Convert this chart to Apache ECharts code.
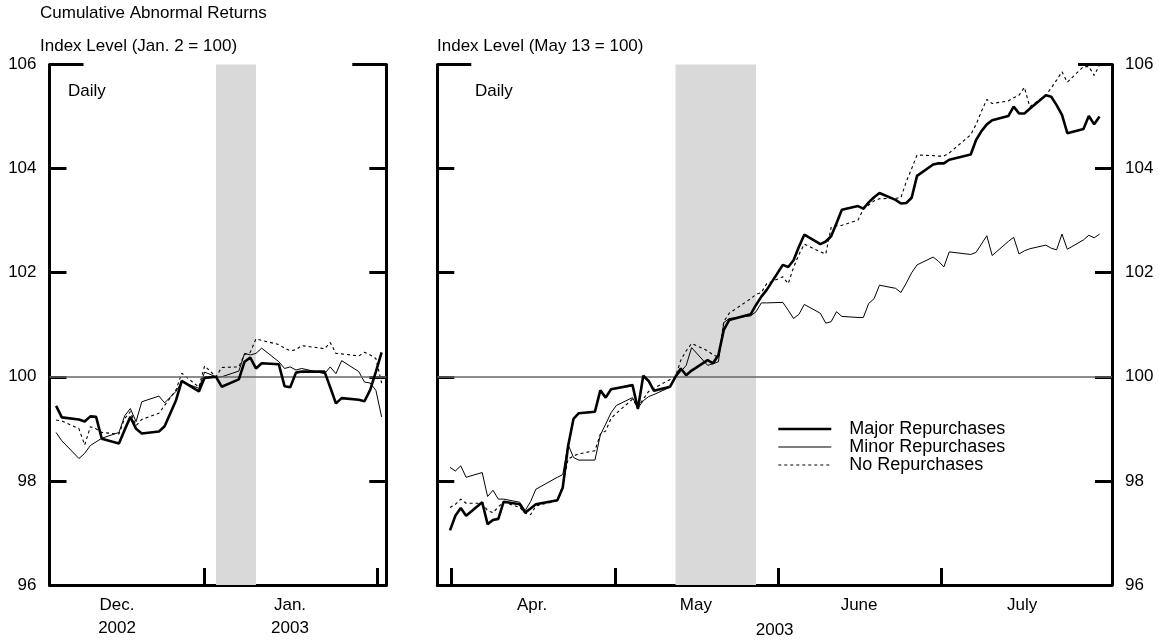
<!DOCTYPE html>
<html><head><meta charset="utf-8">
<script src="https://cdn.jsdelivr.net/npm/echarts@6/dist/echarts.min.js"></script>
<style>html,body{margin:0;padding:0;background:#fff}#c{width:1159px;height:640px}</style>
</head><body><div id="c"></div>
<script>
// ---------------- data ----------------
const chartTitle = 'Cumulative Abnormal Returns';
const leftSubtitle = 'Index Level (Jan. 2 = 100)';
const rightSubtitle = 'Index Level (May 13 = 100)';
const panelNote = 'Daily';
const seriesNames = ['Major Repurchases', 'Minor Repurchases', 'No Repurchases'];
const yTicks = [96, 98, 100, 102, 104, 106];

const leftDates = ['2002-12-05','2002-12-06','2002-12-09','2002-12-10','2002-12-11','2002-12-12','2002-12-13','2002-12-16','2002-12-17','2002-12-18','2002-12-19','2002-12-20','2002-12-23','2002-12-24','2002-12-26','2002-12-27','2002-12-30','2002-12-31','2003-01-02','2003-01-03','2003-01-06','2003-01-07','2003-01-08','2003-01-09','2003-01-10','2003-01-13','2003-01-14','2003-01-15','2003-01-16','2003-01-17','2003-01-21','2003-01-22','2003-01-23','2003-01-24','2003-01-27','2003-01-28','2003-01-29','2003-01-30','2003-01-31'];
const leftMajor = [99.44,99.22,99.18,99.14,99.24,99.23,98.81,98.72,98.98,99.23,99.00,98.91,98.95,99.05,99.55,99.92,99.72,99.98,100.00,99.81,99.95,100.29,100.37,100.16,100.26,100.24,99.82,99.80,100.08,100.10,100.10,99.80,99.49,99.59,99.56,99.53,99.75,100.10,100.47];
const leftMinor = [98.93,98.77,98.43,98.53,98.68,98.75,98.82,98.93,99.25,99.39,99.14,99.52,99.63,99.50,99.72,99.90,99.78,100.09,100.00,100.00,100.11,100.45,100.42,100.45,100.55,100.29,100.16,100.19,100.13,100.16,100.06,100.19,100.06,100.31,100.10,99.90,99.88,99.74,99.23];
const leftNone  = [99.17,99.15,99.00,98.69,99.04,99.00,98.93,98.90,99.20,99.33,99.06,99.18,99.30,99.45,99.75,100.07,99.80,100.21,100.00,100.18,100.19,100.43,100.47,100.73,100.70,100.62,100.55,100.50,100.52,100.60,100.54,100.66,100.45,100.44,100.40,100.47,100.42,100.35,99.88];

const rightDates = ['2003-04-01','2003-04-02','2003-04-03','2003-04-04','2003-04-07','2003-04-08','2003-04-09','2003-04-10','2003-04-11','2003-04-14','2003-04-15','2003-04-16','2003-04-17','2003-04-21','2003-04-22','2003-04-23','2003-04-24','2003-04-25','2003-04-28','2003-04-29','2003-04-30',
'2003-05-01','2003-05-02','2003-05-05','2003-05-06','2003-05-07','2003-05-08','2003-05-09','2003-05-12','2003-05-13','2003-05-14','2003-05-15','2003-05-16','2003-05-19','2003-05-20','2003-05-21','2003-05-22','2003-05-23','2003-05-27','2003-05-28','2003-05-29','2003-05-30',
'2003-06-02','2003-06-03','2003-06-04','2003-06-05','2003-06-06','2003-06-09','2003-06-10','2003-06-11','2003-06-12','2003-06-13','2003-06-16','2003-06-17','2003-06-18','2003-06-19','2003-06-20','2003-06-23','2003-06-24','2003-06-25','2003-06-26','2003-06-27','2003-06-30',
'2003-07-01','2003-07-02','2003-07-03','2003-07-07','2003-07-08','2003-07-09','2003-07-10','2003-07-11','2003-07-14','2003-07-15','2003-07-16','2003-07-17','2003-07-18','2003-07-21','2003-07-22','2003-07-23','2003-07-24','2003-07-25','2003-07-28','2003-07-29','2003-07-30','2003-07-31'];
const rightMajor = [97.05,97.33,97.48,97.33,97.59,97.17,97.25,97.27,97.60,97.55,97.39,97.47,97.55,97.63,97.87,98.67,99.19,99.30,99.33,99.74,99.60,
99.76,99.78,99.84,99.38,100.02,99.92,99.73,99.81,100.00,100.16,100.03,100.12,100.32,100.26,100.42,100.90,101.09,101.20,101.38,101.54,101.67,
102.15,102.11,102.24,102.50,102.73,102.55,102.60,102.70,102.95,103.21,103.28,103.23,103.35,103.45,103.53,103.40,103.33,103.34,103.44,103.86,104.08,
104.10,104.10,104.17,104.27,104.55,104.72,104.85,104.93,105.01,105.19,105.06,105.06,105.15,105.41,105.38,105.22,105.03,104.68,104.76,105.01,104.85,105.00];
const rightMinor = [98.26,98.19,98.29,98.07,98.16,97.70,97.82,97.65,97.65,97.59,97.43,97.60,97.84,98.07,98.12,98.70,98.45,98.40,98.40,98.88,99.09,
99.31,99.45,99.60,99.40,99.54,99.62,99.66,99.80,100.00,100.10,100.22,100.56,100.22,100.25,100.29,101.04,101.12,101.17,101.25,101.42,101.42,
101.43,101.28,101.12,101.20,101.39,101.22,101.03,101.06,101.25,101.16,101.14,101.14,101.41,101.50,101.76,101.70,101.62,101.80,102.00,102.15,102.30,
102.22,102.11,102.40,102.35,102.39,102.55,102.71,102.33,102.60,102.68,102.36,102.42,102.46,102.53,102.47,102.44,102.74,102.45,102.63,102.72,102.67,102.74];
const rightNone = [97.49,97.55,97.65,97.57,97.57,97.43,97.39,97.50,97.59,97.49,97.38,97.35,97.52,97.62,97.91,98.42,98.48,98.52,98.58,98.90,98.96,
99.20,99.30,99.57,99.41,99.57,99.72,99.78,99.95,100.00,100.32,100.50,100.64,100.50,100.42,100.38,101.06,101.22,101.50,101.58,101.62,101.79,
101.92,101.79,102.10,102.35,102.55,102.40,102.36,102.87,102.90,102.91,103.01,103.22,103.30,103.38,103.42,103.43,103.44,103.75,104.00,104.26,104.25,
104.24,104.24,104.30,104.65,104.85,105.10,105.33,105.25,105.30,105.36,105.41,105.56,105.19,105.41,105.55,105.70,105.86,105.66,105.96,105.96,105.79,105.99];

const leftMonthLabels = ['Dec.\n2002', 'Jan.\n2003'];
const rightMonthLabels = ['Apr.', 'May', 'June', 'July'];
const rightYearLabel = '2003';
const baseline = 100;
const leftShade = ['2003-01-02', '2003-01-09'];
const rightShade = ['2003-05-13', '2003-05-28'];

// axis placements (dates)
const leftRange = ['2002-12-03 20:10', '2003-01-31 19:40'];
const leftTickDates = ['2002-12-30 22:00', '2003-01-30 05:00'];
const leftLabelDates = ['2002-12-15 16:00', '2003-01-14 23:00'];
const rightRange = ['2003-03-29 15:12', '2003-08-02 07:40'];
const rightTickDates = ['2003-04-01 04:30', '2003-05-01 18:00', '2003-06-01 02:30', '2003-07-01 12:00'];
const rightLabelDates = ['2003-04-16 07:00', '2003-05-16 19:00', '2003-06-16 05:00', '2003-07-16 13:30'];

// ---------------- chart ----------------
const FONT = 'Liberation Sans, Arial, Helvetica, sans-serif';
// date string -> day number (UTC-based, so no timezone effects)
const t = s => {
  const m = s.match(/(\d+)-(\d+)-(\d+)(?:\s+(\d+):(\d+))?/);
  return Date.UTC(+m[1], +m[2] - 1, +m[3], m[4] ? +m[4] : 0, m[5] ? +m[5] : 0) / 86400000;
};
const styles = [
  { color: '#000', width: 2.6, type: 'solid' },
  { color: '#000', width: 1, type: 'solid' },
  { color: '#000', width: 1.1, type: [3, 3] }
];

const grids = [
  { left: 49.5, top: 64.5, width: 336.8, height: 520.5, containLabel: false, outerBoundsMode: 'none' },
  { left: 437.3, top: 64.5, width: 674.7, height: 520.5, containLabel: false, outerBoundsMode: 'none' }
];

function xAxis(gi, range, ticks, labelDates, labels, extra) {
  const lv = labelDates.map(t);
  return Object.assign({
    type: 'value', gridIndex: gi, min: t(range[0]), max: t(range[1]), scale: true,
    axisLine: { onZero: false, lineStyle: { color: '#000', width: 3 } },
    axisTick: { show: true, inside: true, length: 17, lineStyle: { color: '#000', width: 3 }, customValues: ticks.map(t) },
    axisLabel: {
      customValues: lv, color: '#000', fontSize: 17, lineHeight: 23, margin: 9,
      fontFamily: FONT, formatter: (v) => { const i = lv.findIndex(x => Math.abs(x - v) < 1e-6); return i >= 0 ? labels[i] : ''; }
    },
    splitLine: { show: false }, minorTick: { show: false }
  }, extra || {});
}
function yAxis(gi, pos, showLabels) {
  return {
    type: 'value', gridIndex: gi, position: pos, min: yTicks[0], max: yTicks[yTicks.length - 1], interval: 2,
    axisLine: { show: true, onZero: false, lineStyle: { color: '#000', width: 3 } },
    axisTick: { show: true, inside: true, length: 17, lineStyle: { color: '#000', width: 3 } },
    axisLabel: { show: showLabels, color: '#000', fontSize: 17, margin: 13, fontFamily: FONT },
    splitLine: { show: false }
  };
}
function topTickAxis(gi, pos) {
  return {
    type: 'value', gridIndex: gi, position: pos, min: yTicks[0], max: yTicks[yTicks.length - 1],
    axisLine: { show: false, onZero: false },
    axisTick: { show: true, inside: true, length: 34, lineStyle: { color: '#000', width: 3 }, customValues: [yTicks[yTicks.length - 1]] },
    axisLabel: { show: false }, splitLine: { show: false }
  };
}

function helper(xi, yi, shade) {
  return {
    type: 'line', data: [], xAxisIndex: xi, yAxisIndex: yi, z: 0, silent: true,
    markArea: { silent: true, itemStyle: { color: '#d9d9d9' }, data: [[{ xAxis: t(shade[0]) }, { xAxis: t(shade[1]) }]] },
    markLine: {
      silent: true, symbol: ['none', 'none'], label: { show: false },
      lineStyle: { color: '#666666', width: 1.5, type: 'solid' }, emphasis: { disabled: true },
      data: [{ yAxis: baseline }]
    }
  };
}
function line(name, dates, vals, xi, yi, k) {
  return {
    type: 'line', name: name, xAxisIndex: xi, yAxisIndex: yi, z: 5 - k,
    data: dates.map((d, i) => [t(d), vals[i]]),
    symbol: 'none', showSymbol: false, lineStyle: styles[k], itemStyle: { color: '#000' },
    emphasis: { disabled: true }, animation: false
  };
}

const titleStyle = { fontSize: 17, fontWeight: 'normal', color: '#000', fontFamily: FONT };
const option = {
  animation: false,
  backgroundColor: '#fff',
  textStyle: { fontFamily: FONT },
  title: [
    { text: chartTitle, left: 40, top: 5, padding: 0, textStyle: titleStyle },
    { text: leftSubtitle, left: 40, top: 38, padding: 0, textStyle: titleStyle },
    { text: rightSubtitle, left: 437, top: 38, padding: 0, textStyle: titleStyle },
    { text: panelNote, left: 68, top: 83, padding: 0, textStyle: titleStyle },
    { text: panelNote, left: 475, top: 83, padding: 0, textStyle: titleStyle }
  ],
  legend: {
    data: seriesNames.map((n, k) => ({ name: n, lineStyle: { width: styles[k].width, type: styles[k].type, color: '#000' } })),
    orient: 'vertical', left: 777, top: 420, itemWidth: 53, itemHeight: 12, itemGap: 0,
    padding: 0, selectedMode: false,
    itemStyle: { color: 'rgba(0,0,0,0)', borderColor: 'rgba(0,0,0,0)', borderWidth: 0, opacity: 0 },
    textStyle: { fontSize: 18, lineHeight: 17.5, color: '#000', fontFamily: FONT, padding: [0, 0, 0, 13] }
  },
  grid: grids,
  xAxis: [
    xAxis(0, leftRange, leftTickDates, leftLabelDates, leftMonthLabels),
    xAxis(1, rightRange, rightTickDates, rightLabelDates, rightMonthLabels,
      { name: rightYearLabel, nameLocation: 'middle', nameGap: 34, nameTextStyle: { color: '#000', fontSize: 17, fontFamily: FONT } })
  ],
  yAxis: [
    yAxis(0, 'left', true), yAxis(0, 'right', false), topTickAxis(0, 'left'), topTickAxis(0, 'right'),
    yAxis(1, 'left', false), yAxis(1, 'right', true), topTickAxis(1, 'left'), topTickAxis(1, 'right')
  ],
  series: [
    helper(0, 0, leftShade),
    helper(1, 4, rightShade),
    line(seriesNames[1], leftDates, leftMinor, 0, 0, 1),
    line(seriesNames[2], leftDates, leftNone, 0, 0, 2),
    line(seriesNames[0], leftDates, leftMajor, 0, 0, 0),
    line(seriesNames[1], rightDates, rightMinor, 1, 4, 1),
    line(seriesNames[2], rightDates, rightNone, 1, 4, 2),
    line(seriesNames[0], rightDates, rightMajor, 1, 4, 0)
  ]
};
const chart = echarts.init(document.getElementById('c'), null, { renderer: 'canvas' });
chart.setOption(option);
</script></body></html>
